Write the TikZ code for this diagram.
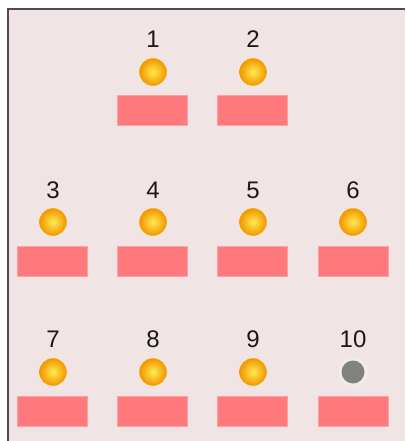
\documentclass[tikz,border=0pt]{standalone}
\usepackage{fontspec}
\setmainfont{Liberation Sans}
\definecolor{bgpink}{RGB}{240,228,228}
\definecolor{frameline}{RGB}{80,76,78}
\definecolor{boxred}{RGB}{255,122,124}
\definecolor{boxedge}{RGB}{255,160,160}
\definecolor{ballin}{RGB}{255,235,80}
\definecolor{ballout}{RGB}{242,150,0}
\definecolor{ballgray}{RGB}{128,130,128}
\begin{document}
\begin{tikzpicture}[x=1pt,y=-1pt,
  slot/.style={rectangle,minimum width=70pt,minimum height=30pt,inner sep=0pt,fill=boxred,draw=boxedge,line width=0.6pt},
  lamp/.style={circle,minimum size=27pt,inner sep=0pt,inner color=ballin,outer color=ballout,draw=ballout!85!yellow,line width=0.5pt},
  lampoff/.style={circle,minimum size=23pt,inner sep=0pt,fill=ballgray},
  num/.style={font=\fontsize{24pt}{28pt}\selectfont,text=black!90,inner sep=0pt}]
\useasboundingbox (0,0) rectangle (405,441);
\fill[white] (0,0) rectangle (405,441);
\fill[bgpink] (7,8) rectangle (405,441);
\draw[frameline,line width=2pt] (8,441) -- (8,9) -- (405,9);
% row 1
\node[num] (l1) at (153,39) {1};
\node[num] (l2) at (253,39) {2};
\node[lamp] (b1) at (153,72) {};
\node[lamp] (b2) at (253,72) {};
\node[slot] (s1) at (152,110) {};
\node[slot] (s2) at (252,110) {};
% row 2
\node[num] (l3) at (53,190) {3};
\node[num] (l4) at (153,190) {4};
\node[num] (l5) at (253,190) {5};
\node[num] (l6) at (353,190) {6};
\node[lamp] (b3) at (53,222) {};
\node[lamp] (b4) at (153,222) {};
\node[lamp] (b5) at (253,222) {};
\node[lamp] (b6) at (353,222) {};
\node[slot] (s3) at (52,261) {};
\node[slot] (s4) at (152,261) {};
\node[slot] (s5) at (252,261) {};
\node[slot] (s6) at (353,261) {};
% row 3
\node[num] (l7) at (53,339) {7};
\node[num] (l8) at (153,339) {8};
\node[num] (l9) at (253,339) {9};
\node[num] (l10) at (353,339) {10};
\node[lamp] (b7) at (53,372) {};
\node[lamp] (b8) at (153,372) {};
\node[lamp] (b9) at (253,372) {};
\shade[inner color=white,outer color=bgpink] (353,372) circle (17);
\node[lampoff] (b10) at (353,372) {};
\node[slot] (s7) at (52,411) {};
\node[slot] (s8) at (152,411) {};
\node[slot] (s9) at (252,411) {};
\node[slot] (s10) at (353,411) {};
\end{tikzpicture}
\end{document}
